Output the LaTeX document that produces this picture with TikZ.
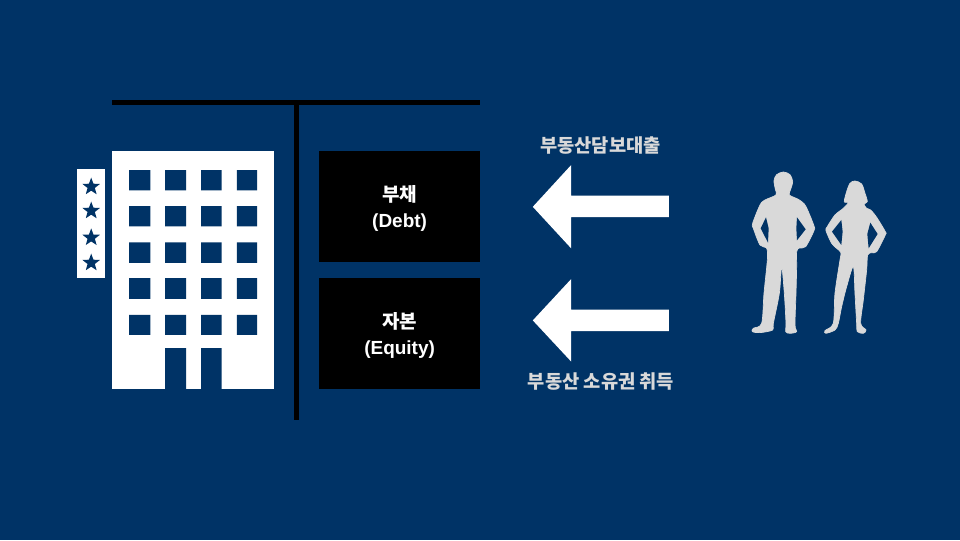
\documentclass[tikz,border=0pt]{standalone}
\usepackage{fontspec}
\setmainfont{Liberation Sans}
\newfontfamily\krfont{Noto Sans CJK KR}
\definecolor{hdnavy}{RGB}{0,51,102}
\definecolor{hdgray}{RGB}{217,217,217}
\usetikzlibrary{positioning,shapes.geometric}
\tikzset{
  windowfill/.style={fill=hdnavy},
  starmark/.style={star, star points=5, star point ratio=2.4, fill=hdnavy, inner sep=0pt, minimum size=0.46cm},
  capbox/.style={fill=black, text=white, minimum width=4.025cm, minimum height=2.775cm, align=center, font=\fontsize{13.5}{18.5}\selectfont\bfseries},
  krlabel/.style={text=hdgray, font=\fontsize{13.3}{16}\selectfont\krfont\bfseries},
  barline/.style={line width=3.5pt, black},
  persongray/.style={fill=hdgray, draw=hdgray, line width=0.5pt}
}
\begin{document}
\begin{tikzpicture}
  % Background
  \fill[hdnavy] (0,0) rectangle (24,13.5);
  % Hotel building
  \fill[white] (2.81,3.775) rectangle (6.86,9.725);
  \fill[windowfill] (3.23,8.74) rectangle (3.76,9.25) (4.13,8.74) rectangle (4.65,9.25) (5.03,8.74) rectangle (5.54,9.25) (5.92,8.74) rectangle (6.43,9.25);
  \fill[windowfill] (3.23,7.84) rectangle (3.76,8.35) (4.13,7.84) rectangle (4.65,8.35) (5.03,7.84) rectangle (5.54,8.35) (5.92,7.84) rectangle (6.43,8.35);
  \fill[windowfill] (3.23,6.93) rectangle (3.76,7.44) (4.13,6.93) rectangle (4.65,7.44) (5.03,6.93) rectangle (5.54,7.44) (5.92,6.93) rectangle (6.43,7.44);
  \fill[windowfill] (3.23,6.03) rectangle (3.76,6.55) (4.13,6.03) rectangle (4.65,6.55) (5.03,6.03) rectangle (5.54,6.55) (5.92,6.03) rectangle (6.43,6.55);
  \fill[windowfill] (3.23,5.13) rectangle (3.76,5.63) (4.13,5.13) rectangle (4.65,5.63) (5.03,5.13) rectangle (5.54,5.63) (5.92,5.13) rectangle (6.43,5.63);
  % Doors
  \fill[windowfill] (4.13,3.775) rectangle (4.65,4.8) (5.03,3.775) rectangle (5.54,4.8);
  % Star sign
  \fill[white] (1.93,6.54) rectangle (2.62,9.27);
  \node[starmark] (star1) at (2.28,8.83) {};
  \node[starmark] (star2) at (2.28,8.23) {};
  \node[starmark] (star3) at (2.28,7.56) {};
  \node[starmark] (star4) at (2.28,6.93) {};
  % T account
  \draw[barline] (2.8,10.93) -- (12,10.93);
  \draw[barline] (7.41,10.93) -- (7.41,3);
  \node[capbox] (debt) at (9.99,8.34) {\rule{0pt}{14.5pt}{\krfont 부채}\\(Debt)};
  \node[capbox] (equity) at (9.99,5.16) {\rule{0pt}{14.5pt}{\krfont 자본}\\(Equity)};
  % Arrows
  \fill[white] (13.32,8.33) -- (14.28,9.375) -- (14.28,8.61) -- (16.72,8.61) -- (16.72,8.07) -- (14.28,8.07) -- (14.28,7.29) -- cycle;
  \fill[white] (13.32,5.49) -- (14.28,6.525) -- (14.28,5.76) -- (16.72,5.76) -- (16.72,5.22) -- (14.28,5.22) -- (14.28,4.46) -- cycle;
  \node[krlabel] (loan) at (15.01,9.86) {부동산담보대출};
  \node[krlabel] (title) at (15.025,3.96) {부동산 소유권 취득};
  % People
  \begin{scope}[shift={(18.5,9.5)},x=0.00833cm,y=-0.00833cm]
    \fill[persongray] plot[smooth cycle, tension=0.5] coordinates {
      (130,36) (150,44) (158,65) (152,88) (148,105) (175,118) (193,132) (205,155) (222,198) (222,212)
      (197,260) (178,264) (170,275) (170,320) (168,400) (165,495) (170,515) (150,520) (137,515) (138,490)
      (133,400) (125,320) (118,400) (100,490) (98,510) (60,518) (37,515) (40,505) (65,490) (72,400)
      (82,300) (80,265) (60,255) (40,205) (38,190) (60,135) (75,120) (108,105) (106,88) (102,62) (110,44)};
    \fill[persongray] plot[smooth cycle, tension=0.5] coordinates {
      (345,63) (365,72) (375,100) (382,125) (372,132) (380,145) (392,150) (410,172) (436,215) (436,225)
      (410,275) (395,278) (383,285) (380,330) (370,420) (362,490) (378,510) (370,520) (352,515) (350,490)
      (345,400) (340,320) (320,380) (305,440) (295,490) (285,510) (258,520) (255,512) (280,490) (285,400)
      (300,300) (303,278) (290,265) (275,250) (258,212) (262,200) (285,165) (310,145) (325,128) (313,125)
      (320,95) (330,70)};
    % Gaps under the arms
    \fill[hdnavy] (78,172) -- (62,205) -- (84,248) -- (86,205) -- cycle;
    \fill[hdnavy] (171,172) -- (197,208) -- (171,241) -- (169,205) -- cycle;
    \fill[hdnavy] (304,180) -- (276,215) -- (304,255) -- (308,215) -- cycle;
    \fill[hdnavy] (391,188) -- (413,222) -- (386,265) -- (382,222) -- cycle;
  \end{scope}
\end{tikzpicture}
\end{document}
